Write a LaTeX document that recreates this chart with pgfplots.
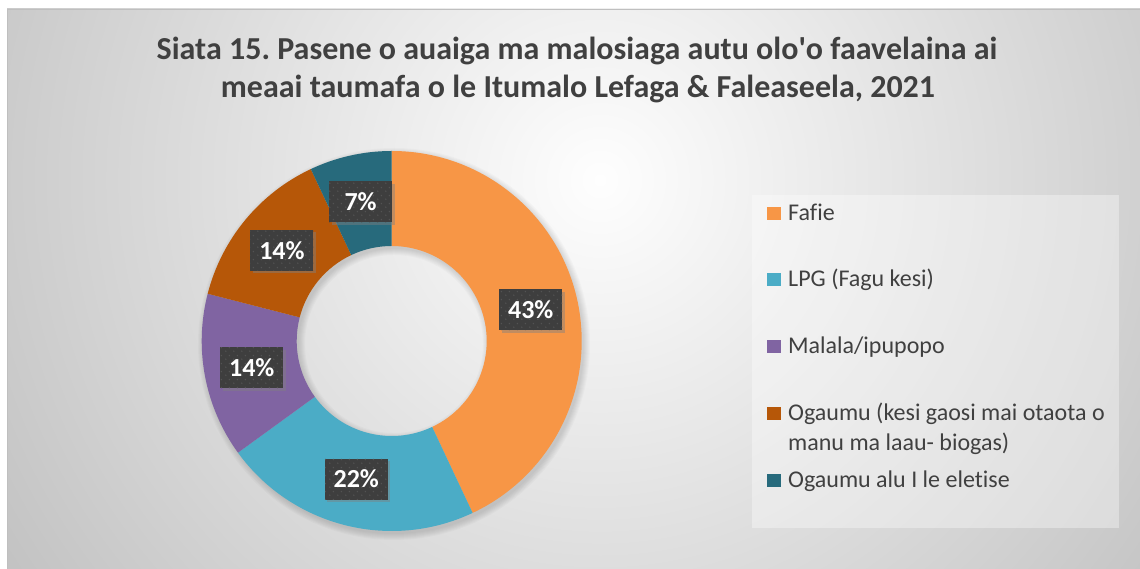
\documentclass[border=0pt]{standalone}
\usepackage{pgfplots}
\pgfplotsset{compat=1.18}
\usepackage{pgfplotstable}
\usepackage{fontspec}
\setmainfont{Carlito}[Ligatures={NoCommon}]
\usetikzlibrary{shadows,patterns.meta}
\frenchspacing

\definecolor{cA}{HTML}{F79646}
\definecolor{cB}{HTML}{4BACC6}
\definecolor{cC}{HTML}{8064A2}
\definecolor{cD}{HTML}{B65708}
\definecolor{cE}{HTML}{276A7C}
\definecolor{txt}{HTML}{404040}
\definecolor{lblbg}{HTML}{3E3E3E}
\definecolor{lbldot}{HTML}{535353}
\definecolor{bgin}{HTML}{FEFEFE}
\definecolor{bgout}{HTML}{BFBFBF}

\tikzdeclarepattern{
  name=lbldots,
  type=uncolored,
  bounding box={(0pt,0pt) and (8pt,8pt)},
  tile size={(8pt,8pt)},
  code={\fill (2pt,2pt) circle (0.9pt); \fill (6pt,6pt) circle (0.9pt);}
}

\pgfplotstableread[col sep=comma]{
name,value
Fafie,43
LPG,22
Malala,14
Ogaumu,14
Eletise,7
}\piedata

\newcommand\donut[3]{\fill[#1] (axis cs:391.7,228) ++(#2:190pt) arc[start angle=#2,end angle=#3,radius=190pt] -- ++(#3:-95pt) arc[start angle=#3,end angle=#2,radius=95pt] -- cycle;}

\begin{document}
\begin{tikzpicture}[x=1pt,y=1pt]
% cumulative angles from the data
\pgfplotstablecreatecol[create col/expr accum={\pgfmathaccuma + \thisrow{value}}{0}]{cum}\piedata
\xdef\cum{0}
\foreach \i/\s in {0/A,1/B,2/C,3/D,4/E}{%
  \pgfplotstablegetelem{\i}{value}\of\piedata
  \pgfmathsetmacro\st{90-3.6*\cum}%
  \pgfmathsetmacro\newcum{\cum+\pgfplotsretval}%
  \pgfmathsetmacro\en{90-3.6*\newcum}%
  \expandafter\xdef\csname as\s\endcsname{\st}%
  \expandafter\xdef\csname ae\s\endcsname{\en}%
  \xdef\cum{\newcum}%
}
\fill[white] (0,0) rectangle (1140,569);
\useasboundingbox (0,0) rectangle (1140,569);
\begin{scope}
\clip (7,0) rectangle (1140,560);
\shade[inner color=bgin, outer color=bgout] (600,389) circle (750);
\end{scope}
\draw[bgout, line width=1pt] (7.5,0) -- (7.5,559.5) -- (1140,559.5);
% legend box
\fill[white, opacity=0.35] (752,41) rectangle (1119,374);
% donut shadow
\foreach \k in {0,1,...,6}{\fill[black,opacity=0.018,even odd rule] (394,225) circle[radius=190+\k] circle[radius=95-\k];}

\begin{axis}[at={(0,0)}, anchor=south west, scale only axis,
  width=1140pt, height=569pt, xmin=0, xmax=1140, ymin=0, ymax=569,
  axis lines=none, clip=false]
\donut{cA}{\asA}{\aeA}
\donut{cB}{\asB}{\aeB}
\donut{cC}{\asC}{\aeC}
\donut{cD}{\asD}{\aeD}
\donut{cE}{\asE}{\aeE}
\addplot[draw=none, mark=none, point meta=explicit symbolic,
  nodes near coords={\pgfplotspointmeta\%},
  nodes near coords align={center},
  every node near coord/.append style={anchor=center, fill=lblbg, text=white,
    font=\fontsize{26}{30}\selectfont\bfseries, minimum width=63pt, minimum height=41pt,
    inner sep=0pt, postaction={pattern={lbldots}, pattern color=lbldot},
    drop shadow={opacity=0.45, shadow xshift=2.5pt, shadow yshift=-2.5pt}}]
  table[x expr={391.7+142.5*cos(90-3.6*(\thisrow{cum}-0.5*\thisrow{value}))},
        y expr={228+142.5*sin(90-3.6*(\thisrow{cum}-0.5*\thisrow{value}))},
        meta=value] \piedata;
\end{axis}

% title
\node[anchor=base, inner sep=0pt, text=txt, font=\fontsize{32}{38}\selectfont\bfseries] at (577,509)
  {Siata 15. Pasene o auaiga ma malosiaga autu olo\textquotesingle o faavelaina ai};
\node[anchor=base, inner sep=0pt, text=txt, font=\fontsize{32}{38}\selectfont\bfseries] at (578,471)
  {meaai taumafa o le Itumalo Lefaga \& Faleaseela, 2021};

% legend
\tikzset{legtxt/.style={anchor=base west, inner sep=0pt, text=txt, font=\fontsize{24}{30}\selectfont}}
\fill[cA] (767,349) rectangle (781,362);
\node[legtxt] at (788,348) {Fafie};
\fill[cB] (767,283) rectangle (781,296);
\node[legtxt] at (788,282) {LPG (Fagu kesi)};
\fill[cC] (767,216) rectangle (781,229);
\node[legtxt] at (788,215) {Malala/ipupopo};
\fill[cD] (767,149) rectangle (781,162);
\node[legtxt] at (788,148) {Ogaumu (kesi gaosi mai otaota o};
\node[legtxt] at (788,118) {manu ma laau- biogas)};
\fill[cE] (767,82) rectangle (781,95);
\node[legtxt] at (788,81) {Ogaumu alu I le eletise};
\end{tikzpicture}
\end{document}
